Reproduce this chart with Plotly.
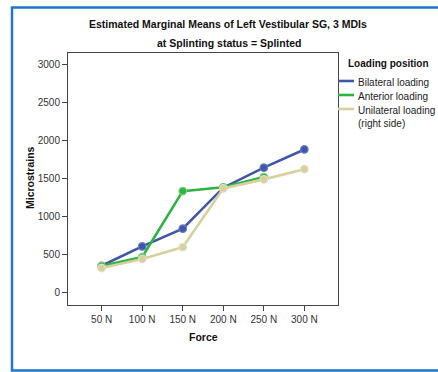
import plotly.graph_objects as go

# Estimated marginal means (microstrains) by force level and loading position
forces = ["50 N", "100 N", "150 N", "200 N", "250 N", "300 N"]
bilateral = [350, 605, 840, 1380, 1645, 1885]
anterior = [345, 465, 1335, 1385, 1520]
unilateral = [320, 440, 595, 1370, 1490, 1625]

series_names = ["Bilateral loading", "Anterior loading", "Unilateral loading<br>(right side)"]
series_values = [bilateral, anterior, unilateral]
series_colors = ["#3F56AA", "#2DB443", "#D6D09C"]
marker_edges = ["#6A7CC2", "#7ACB86", "#E4DFBD"]

y_ticks = [0, 500, 1000, 1500, 2000, 2500, 3000]

FONT = "Liberation Sans, Arial, sans-serif"

fig = go.Figure()
for name, vals, col, edge in zip(series_names, series_values, series_colors, marker_edges):
    fig.add_trace(go.Scatter(
        x=forces[:len(vals)], y=vals, mode="lines+markers", name=name,
        line=dict(color=col, width=2.6),
        marker=dict(symbol="circle", size=7.5, color=col, line=dict(color=edge, width=1.2)),
        showlegend=False,
    ))

# Plot area in pixels: x 68..338, y 53..305 in a 438x372 page
L, R, T, B = 68, 338, 53, 305
W, H = 438, 372


def px(x):
    return (x - L) / (R - L)


def py(y):
    return (B - y) / (B - T)


shapes = []
annotations = []

# Blue outer frame of the output panel
shapes.append(dict(type="rect", xref="paper", yref="paper",
                   x0=px(12), x1=px(445), y0=py(370.5), y1=py(7.5),
                   line=dict(color="#1E77C9", width=2.5), fillcolor="rgba(0,0,0,0)",
                   layer="below"))

# Manual legend: short line swatches and labels
annotations.append(dict(xref="paper", yref="paper", x=px(346), y=py(64), text="<b>Loading position</b>",
                        showarrow=False, xanchor="left", yanchor="middle",
                        font=dict(family=FONT, size=10, color="#111")))
legend_rows = [81, 95, 109]
for name, col, yy in zip(series_names, series_colors, legend_rows):
    shapes.append(dict(type="line", xref="paper", yref="paper",
                       x0=px(338), x1=px(354), y0=py(yy), y1=py(yy),
                       line=dict(color=col, width=2.6)))
    annotations.append(dict(xref="paper", yref="paper", x=px(356), y=py(yy - 6.5), text=name,
                            showarrow=False, xanchor="left", yanchor="top", align="left",
                            font=dict(family=FONT, size=10, color="#222")))

# Titles
annotations.append(dict(xref="paper", yref="paper", x=px(228), y=py(24),
                        text="<b>Estimated Marginal Means of Left Vestibular SG, 3 MDIs</b>",
                        showarrow=False, xanchor="center", yanchor="middle",
                        font=dict(family=FONT, size=10.5, color="#111")))
annotations.append(dict(xref="paper", yref="paper", x=px(228.5), y=py(43.5),
                        text="<b>at Splinting status = Splinted</b>",
                        showarrow=False, xanchor="center", yanchor="middle",
                        font=dict(family=FONT, size=10.5, color="#111")))
annotations.append(dict(xref="paper", yref="paper", x=px(30), y=py(178),
                        text="<b>Microstrains</b>", textangle=-90,
                        showarrow=False, xanchor="center", yanchor="middle",
                        font=dict(family=FONT, size=10.5, color="#111")))
annotations.append(dict(xref="paper", yref="paper", x=px(203), y=py(337),
                        text="<b>Force</b>",
                        showarrow=False, xanchor="center", yanchor="middle",
                        font=dict(family=FONT, size=10.5, color="#111")))

fig.update_layout(
    width=W, height=H,
    margin=dict(l=L, r=W - R, t=T, b=H - B, pad=0),
    paper_bgcolor="white", plot_bgcolor="white",
    shapes=shapes, annotations=annotations,
    xaxis=dict(type="category", range=[-0.83, 5.83], showgrid=False, zeroline=False,
               showline=True, linecolor="#444", linewidth=1, mirror=True,
               ticks="outside", ticklen=5, tickcolor="#444",
               tickfont=dict(family=FONT, size=10, color="#333")),
    yaxis=dict(range=[-168, 3158], tickvals=y_ticks, showgrid=False, zeroline=False,
               showline=True, linecolor="#444", linewidth=1, mirror=True,
               ticks="outside", ticklen=5, tickcolor="#444",
               tickfont=dict(family=FONT, size=10, color="#333")),
)

fig.write_html("out.html")
